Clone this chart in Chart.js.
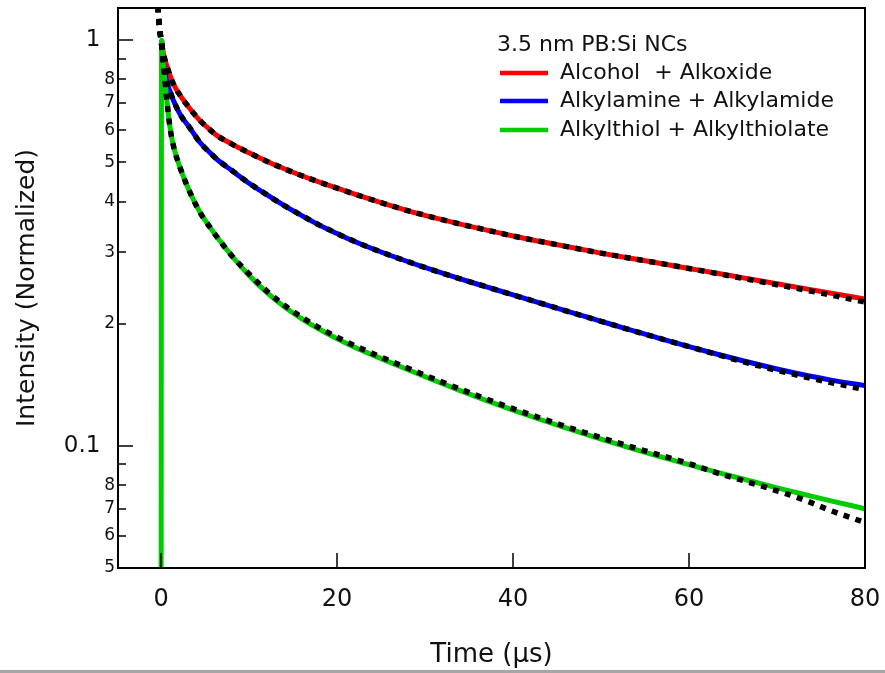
<!DOCTYPE html>
<html>
<head>
<meta charset="utf-8">
<script src="https://cdn.jsdelivr.net/npm/chart.js@4.4.0/dist/chart.umd.min.js"></script>
<style>
	html, body { margin: 0; padding: 0; background: #fff; }
	#wrap { width: 885px; height: 673px; }
</style>
</head>
<body>
<div id="wrap"><canvas id="decayChart" width="885" height="673"></canvas></div>
<script>
// time axis of the measured traces (µs)
const tData = [0, 0.05, 0.25, 0.7, 1, 1.4, 2.2, 3.3, 4.4, 5.5, 6.4, 8, 10, 12, 14, 16, 18, 20, 22, 25, 28, 31, 34, 37, 40, 43, 46, 50, 53, 56, 60, 63, 66, 70, 73, 76, 80];
// only the green trace shows its rise at t = 0, the others are hidden under it
const redI = [null, 1.0, 0.929, 0.8583, 0.8204, 0.7796, 0.7286, 0.6767, 0.6342, 0.6027, 0.5808, 0.5551, 0.5276, 0.5028, 0.482, 0.4632, 0.4466, 0.4317, 0.4173, 0.3977, 0.3801, 0.3653, 0.3521, 0.3403, 0.329, 0.3193, 0.3102, 0.2986, 0.2909, 0.2835, 0.2737, 0.2667, 0.2598, 0.2509, 0.2444, 0.2381, 0.23];
const blueI = [null, 1.0, 0.89, 0.7819, 0.7494, 0.7101, 0.6542, 0.6062, 0.5601, 0.5292, 0.5072, 0.4779, 0.444, 0.416, 0.391, 0.3694, 0.35, 0.3337, 0.3189, 0.3005, 0.2847, 0.2706, 0.2579, 0.2465, 0.2356, 0.2252, 0.2152, 0.2028, 0.194, 0.1858, 0.1756, 0.1687, 0.1623, 0.1547, 0.1497, 0.1454, 0.1408];
const greenI = [0.04, 1.0, 0.878, 0.6963, 0.6113, 0.5489, 0.482, 0.4207, 0.3768, 0.3471, 0.3262, 0.2946, 0.2631, 0.2389, 0.2202, 0.2057, 0.1938, 0.1837, 0.1751, 0.1641, 0.1542, 0.1451, 0.1368, 0.1293, 0.1225, 0.1163, 0.1107, 0.1039, 0.0993, 0.095, 0.0899, 0.0863, 0.083, 0.0788, 0.076, 0.0733, 0.07];

// fitted curves (black dotted)
const fitT = [-0.45, -0.2, 0, 0.25, 0.7, 1, 1.4, 2.2, 3.3, 4.4, 5.5, 6.4, 8, 10, 12, 14, 16, 18, 20, 22, 25, 28, 31, 34, 37, 40, 43, 46, 50, 53, 56, 60, 63, 66, 70, 73, 76, 80];
const redFit = [1.3, 1.08, 1.0, 0.929, 0.8583, 0.8204, 0.7796, 0.7286, 0.6767, 0.6342, 0.6027, 0.5808, 0.5551, 0.5276, 0.5028, 0.482, 0.4632, 0.4466, 0.4317, 0.4173, 0.3977, 0.3801, 0.3653, 0.3521, 0.3403, 0.329, 0.3193, 0.3102, 0.2986, 0.2909, 0.2835, 0.2737, 0.2664, 0.259, 0.2495, 0.2427, 0.2356, 0.2261];
const blueFit = [1.3, 1.08, 1.0, 0.89, 0.7819, 0.7494, 0.7101, 0.6542, 0.6062, 0.5601, 0.5292, 0.5072, 0.4779, 0.444, 0.416, 0.391, 0.3694, 0.35, 0.3337, 0.3189, 0.3005, 0.2847, 0.2706, 0.2579, 0.2465, 0.2356, 0.2252, 0.2152, 0.2028, 0.194, 0.1858, 0.1756, 0.1684, 0.1615, 0.1535, 0.1482, 0.1434, 0.1376];
const greenFit = [1.3, 1.08, 1.0, 0.878, 0.6963, 0.6113, 0.5489, 0.482, 0.4207, 0.3768, 0.3471, 0.3262, 0.2946, 0.2653, 0.2409, 0.2221, 0.2074, 0.1954, 0.1853, 0.1766, 0.1655, 0.1555, 0.1463, 0.138, 0.1304, 0.1235, 0.1173, 0.1116, 0.1048, 0.1001, 0.0958, 0.0904, 0.086, 0.0823, 0.0775, 0.0737, 0.0694, 0.0647];

const seriesNames = ['Alcohol  + Alkoxide', 'Alkylamine + Alkylamide', 'Alkylthiol + Alkylthiolate'];
const seriesColors = ['#ff0000', '#0000ff', '#00cc00'];
const legendTitle = '3.5 nm PB:Si NCs';

const xTickVals = [0, 20, 40, 60, 80];
const yTickVals = [0.05, 0.06, 0.07, 0.08, 0.09, 0.1, 0.2, 0.3, 0.4, 0.5, 0.6, 0.7, 0.8, 0.9, 1];
const yTickLabels = ['5', '6', '7', '8', '', '0.1', '2', '3', '4', '5', '6', '7', '8', '', '1'];
const yMajor = [0.1, 1];

const FONT = "'DejaVu Sans', sans-serif";

function toXY(ts, vs) {
	return ts.map((t, i) => ({ x: t, y: vs[i] }));
}

function isMajor(v) {
	return yMajor.some(m => Math.abs(m - v) < 1e-9);
}

const framePlugin = {
	id: 'frame',
	afterDatasetsDraw(chart) {
		const { ctx, chartArea: a, scales } = chart;
		ctx.save();
		ctx.strokeStyle = '#000';
		ctx.lineWidth = 2;
		ctx.strokeRect(a.left, a.top, a.right - a.left, a.bottom - a.top);

		// inward ticks
		ctx.lineWidth = 1.5;
		ctx.beginPath();
		yTickVals.forEach(v => {
			const y = Math.round(scales.y.getPixelForValue(v));
			const len = isMajor(v) ? 15 : 8;
			ctx.moveTo(a.left, y);
			ctx.lineTo(a.left + len, y);
		});
		xTickVals.forEach(v => {
			const x = Math.round(scales.x.getPixelForValue(v));
			ctx.moveTo(x, a.bottom);
			ctx.lineTo(x, a.bottom - 15);
		});
		ctx.stroke();

		// legend box in the top right
		ctx.fillStyle = '#111';
		ctx.textBaseline = 'middle';
		ctx.textAlign = 'left';
		ctx.font = '22px ' + FONT;
		ctx.fillText(legendTitle, 497, 45);
		const rows = [73, 101, 130];
		seriesNames.forEach((name, i) => {
			ctx.strokeStyle = seriesColors[i];
			ctx.lineWidth = 4.5;
			ctx.beginPath();
			ctx.moveTo(500, rows[i]);
			ctx.lineTo(548, rows[i]);
			ctx.stroke();
			ctx.fillText(name, 560, rows[i]);
		});

		// grey rule at the bottom of the picture
		ctx.fillStyle = '#a6a6a6';
		ctx.fillRect(0, 670, chart.width, 3);
		ctx.restore();
	}
};

function dataSet(label, ts, vs, color, order) {
	return {
		label: label,
		data: toXY(ts, vs),
		borderColor: color,
		borderWidth: 5,
		pointRadius: 0,
		fill: false,
		cubicInterpolationMode: 'monotone',
		order: order
	};
}

function fitSet(label, vs) {
	return {
		label: label,
		data: toXY(fitT, vs),
		borderColor: '#000',
		borderWidth: 5.5,
		borderDash: [6, 6.5],
		borderCapStyle: 'butt',
		pointRadius: 0,
		fill: false,
		cubicInterpolationMode: 'monotone',
		order: 0
	};
}

window.addEventListener('DOMContentLoaded', () => {
	const ctx = document.getElementById('decayChart');
	new Chart(ctx, {
		type: 'line',
		data: {
			datasets: [
				dataSet(seriesNames[0], tData, redI, seriesColors[0], 3),
				dataSet(seriesNames[1], tData, blueI, seriesColors[1], 2),
				dataSet(seriesNames[2], tData, greenI, seriesColors[2], 1),
				fitSet('fit red', redFit),
				fitSet('fit blue', blueFit),
				fitSet('fit green', greenFit)
			]
		},
		options: {
			responsive: false,
			animation: false,
			devicePixelRatio: 1,
			layout: { padding: { top: 8, right: 20, left: 0, bottom: 0 } },
			plugins: { legend: { display: false }, tooltip: { enabled: false } },
			scales: {
				x: {
					type: 'linear',
					min: -4.9,
					max: 80,
					afterFit: (s) => { s.height = 105; s.paddingLeft = 0; s.paddingRight = 0; },
					afterBuildTicks: (s) => { s.ticks = xTickVals.map(v => ({ value: v })); },
					grid: { display: false, drawTicks: false },
					border: { display: false },
					ticks: { color: '#111', font: { family: FONT, size: 24 }, padding: 17, autoSkip: false, maxRotation: 0 },
					title: { display: true, text: 'Time (µs)', color: '#111', font: { family: FONT, size: 26 }, padding: { top: 0, bottom: 2 } }
				},
				y: {
					type: 'logarithmic',
					min: 0.05,
					max: 1.2,
					afterFit: (s) => { s.width = 118; s.paddingTop = 0; s.paddingBottom = 0; },
					afterBuildTicks: (s) => { s.ticks = yTickVals.map(v => ({ value: v })); },
					grid: { display: false, drawTicks: false },
					border: { display: false },
					ticks: {
						color: '#111',
						autoSkip: false,
						padding: 3,
						font: (c) => ({ family: FONT, size: (c.tick && isMajor(c.tick.value)) ? 23 : 17 }),
						callback: (v, i) => isMajor(yTickVals[i]) ? yTickLabels[i] + '  ' : yTickLabels[i]
					},
					title: { display: true, text: 'Intensity (Normalized)', color: '#111', font: { family: FONT, size: 25 }, padding: { top: 12, bottom: 0 } }
				}
			}
		},
		plugins: [framePlugin]
	});
});
</script>
</body>
</html>
